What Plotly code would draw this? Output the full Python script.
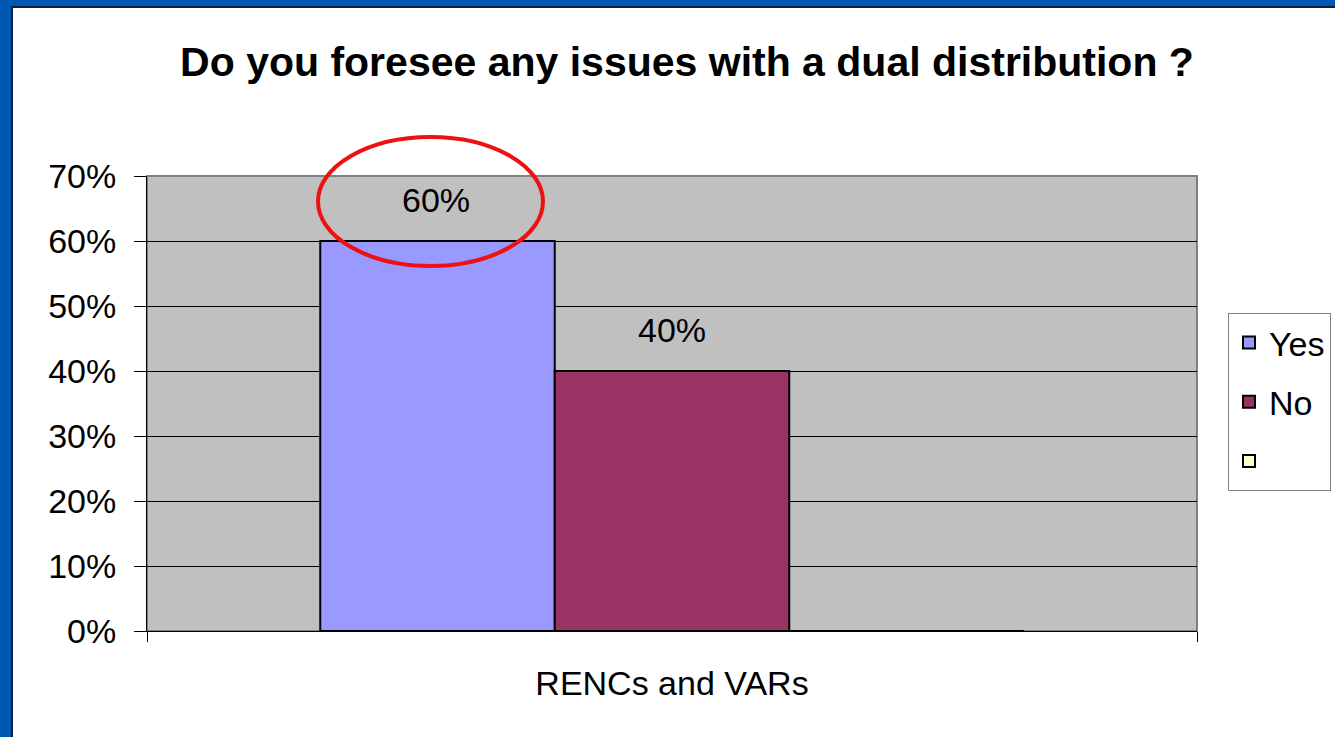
import plotly.graph_objects as go

categories = ["RENCs and VARs"]
series_names = ["Yes", "No", " "]
series_values = [[0.60], [0.40], [0.0]]
series_colors = ["#9999FF", "#993366", "#FFFFCC"]
label_texts = ["60%", "40%"]

W, H = 1335, 737
L, R, T, B = 147, 138, 176, 106
pw, ph = W - L - R, H - T - B


def px_x(p):
    return (p - L) / pw


def px_y(p):
    return (H - B - p) / ph


fig = go.Figure()
for i, (name, vals, col) in enumerate(zip(series_names, series_values, series_colors)):
    fig.add_trace(go.Bar(
        x=categories, y=vals, name=name,
        marker=dict(color=col, line=dict(color="black", width=2)),
        legendgroup=f"g{i}",
    ))

# value labels above bars
offsets = [-236, 0]
for txt, vals, dx in zip(label_texts, series_values, offsets):
    fig.add_annotation(
        x=categories[0], y=vals[0], text=txt, showarrow=False,
        xshift=dx, yshift=20, yanchor="bottom",
        font=dict(size=34, color="black"),
    )

fig.update_layout(
    width=W, height=H,
    margin=dict(l=L, r=R, t=T, b=B),
    paper_bgcolor="#0056B3",
    plot_bgcolor="#C0C0C0",
    font=dict(family="Liberation Sans, Arial, sans-serif", color="black"),
    title=dict(
        text="<b>Do you foresee any issues with a dual distribution ?</b>",
        x=px_x(687), xref="paper", xanchor="center",
        y=1 - 62 / H, yref="container", yanchor="middle",
        font=dict(size=41, color="black"),
    ),
    barmode="group",
    bargap=0.33,
    bargroupgap=0,
    showlegend=True,
    legend=dict(
        xref="container", yref="container",
        x=1228 / W, y=1 - 313 / H, xanchor="left", yanchor="top",
        bgcolor="white", bordercolor="#808080", borderwidth=1,
        font=dict(size=34, color="black"),
        tracegroupgap=12,
        entrywidth=80,
    ),
    shapes=[
        dict(type="rect", xref="paper", yref="paper",
             x0=px_x(12), x1=1.3, y0=-0.4, y1=px_y(7),
             fillcolor="white", line=dict(color="#0b1f45", width=2), layer="below"),
        dict(type="rect", xref="paper", yref="paper",
             x0=0, x1=1, y0=0, y1=1,
             fillcolor="#C0C0C0", line=dict(color="#808080", width=2), layer="below"),
        dict(type="circle", xref="paper", yref="paper",
             x0=px_x(318), x1=px_x(543), y0=px_y(266), y1=px_y(137),
             line=dict(color="#EE1111", width=4), layer="above"),
    ],
)

fig.update_yaxes(
    range=[0, 0.7], dtick=0.1, tickformat=".0%",
    showgrid=True, gridcolor="#000000", gridwidth=1,
    showline=True, linecolor="black", linewidth=1,
    ticks="outside", ticklen=12, tickcolor="black",
    ticklabelstandoff=11,
    tickfont=dict(size=34, color="black"),
    zeroline=False,
)
fig.update_xaxes(
    showline=True, linecolor="black", linewidth=1,
    ticks="outside", ticklen=10, tickcolor="black", tickson="boundaries",
    ticklabelstandoff=22,
    tickfont=dict(size=34, color="black"),
)

fig.write_html(
    "out.html",
    config={"displayModeBar": False},
    post_script="document.body.style.margin='0';document.body.style.background='#0056B3';",
)
